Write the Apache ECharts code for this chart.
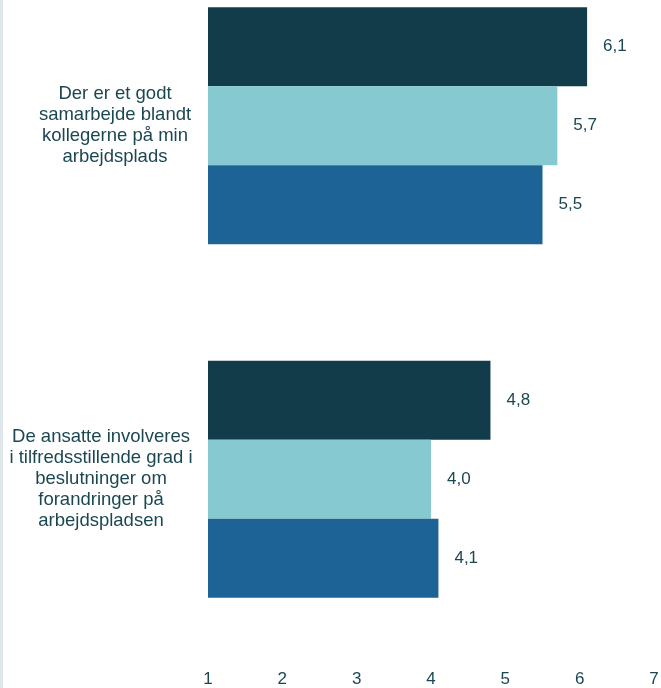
<!DOCTYPE html>
<html>
<head>
<meta charset="utf-8">
<script src="https://cdn.jsdelivr.net/npm/echarts@6/dist/echarts.min.js"></script>
<style>
  html, body { margin: 0; padding: 0; background: #fff; }
  #main { width: 661px; height: 688px; }
</style>
</head>
<body>
<div id="main"></div>
<script>
// kategorier (øverst først)
var categories = [
  'Der er et godt\nsamarbejde blandt\nkollegerne på min\narbejdsplads',
  'De ansatte involveres\ni tilfredsstillende grad i\nbeslutninger om\nforandringer på\narbejdspladsen'
]
var xTicks = [1, 2, 3, 4, 5, 6, 7]

// serier
var serie1 = [6.1, 4.8]
var serie2 = [5.7, 4.0]
var serie3 = [5.5, 4.1]

var colors = ['#133c4a', '#86c9d0', '#1e6395']
var textColor = '#1b4752'
var font = '"Liberation Sans", Arial, sans-serif'

var myChart = echarts.init(document.getElementById('main'))

function makeSeries (name, data, color) {
  return {
    name: name,
    type: 'bar',
    data: data,
    barGap: '0%',
    barCategoryGap: '33%',
    itemStyle: { color: color },
    label: {
      show: true,
      position: 'right',
      distance: 16,
      color: textColor,
      fontFamily: font,
      fontSize: 17,
      formatter: function (p) {
        return p.value.toFixed(1).replace('.', ',')
      }
    }
  }
}

var labelStyle = {
  color: textColor,
  fontFamily: font,
  fontSize: 18.5,
  lineHeight: 21
}

var option = {
  animation: false,
  backgroundColor: '#fff',
  grid: {
    left: 208, right: 7, top: -51, bottom: 32,
    containLabel: false,
    outerBoundsMode: 'none'
  },
  graphic: [{
    type: 'rect',
    shape: { x: 0, y: 0, width: 3, height: 688 },
    style: { fill: '#dfe7ea' },
    silent: true
  }],
  xAxis: {
    type: 'value',
    min: xTicks[0],
    max: xTicks[xTicks.length - 1],
    interval: 1,
    axisLine: { show: false },
    axisTick: { show: false },
    splitLine: { show: false },
    axisLabel: {
      color: textColor,
      fontFamily: font,
      fontSize: 17,
      margin: 15
    }
  },
  yAxis: {
    type: 'category',
    inverse: true,
    data: categories,
    axisLine: { show: false },
    axisTick: { show: false },
    axisLabel: Object.assign({}, labelStyle, {
      align: 'center',
      margin: 93,
      // andet udsagn står lidt længere til venstre i originalen
      formatter: function (value, idx) {
        var key = idx === 1 ? 's' : 'n'
        return value.split('\n').map(function (l) {
          return '{' + key + '|' + l + '}'
        }).join('\n')
      },
      rich: {
        n: Object.assign({}, labelStyle),
        s: Object.assign({}, labelStyle, { padding: [0, 28, 0, 0] })
      }
    })
  },
  series: [
    makeSeries('Serie 1', serie1, colors[0]),
    makeSeries('Serie 2', serie2, colors[1]),
    makeSeries('Serie 3', serie3, colors[2])
  ]
}

myChart.setOption(option)
</script>
</body>
</html>
